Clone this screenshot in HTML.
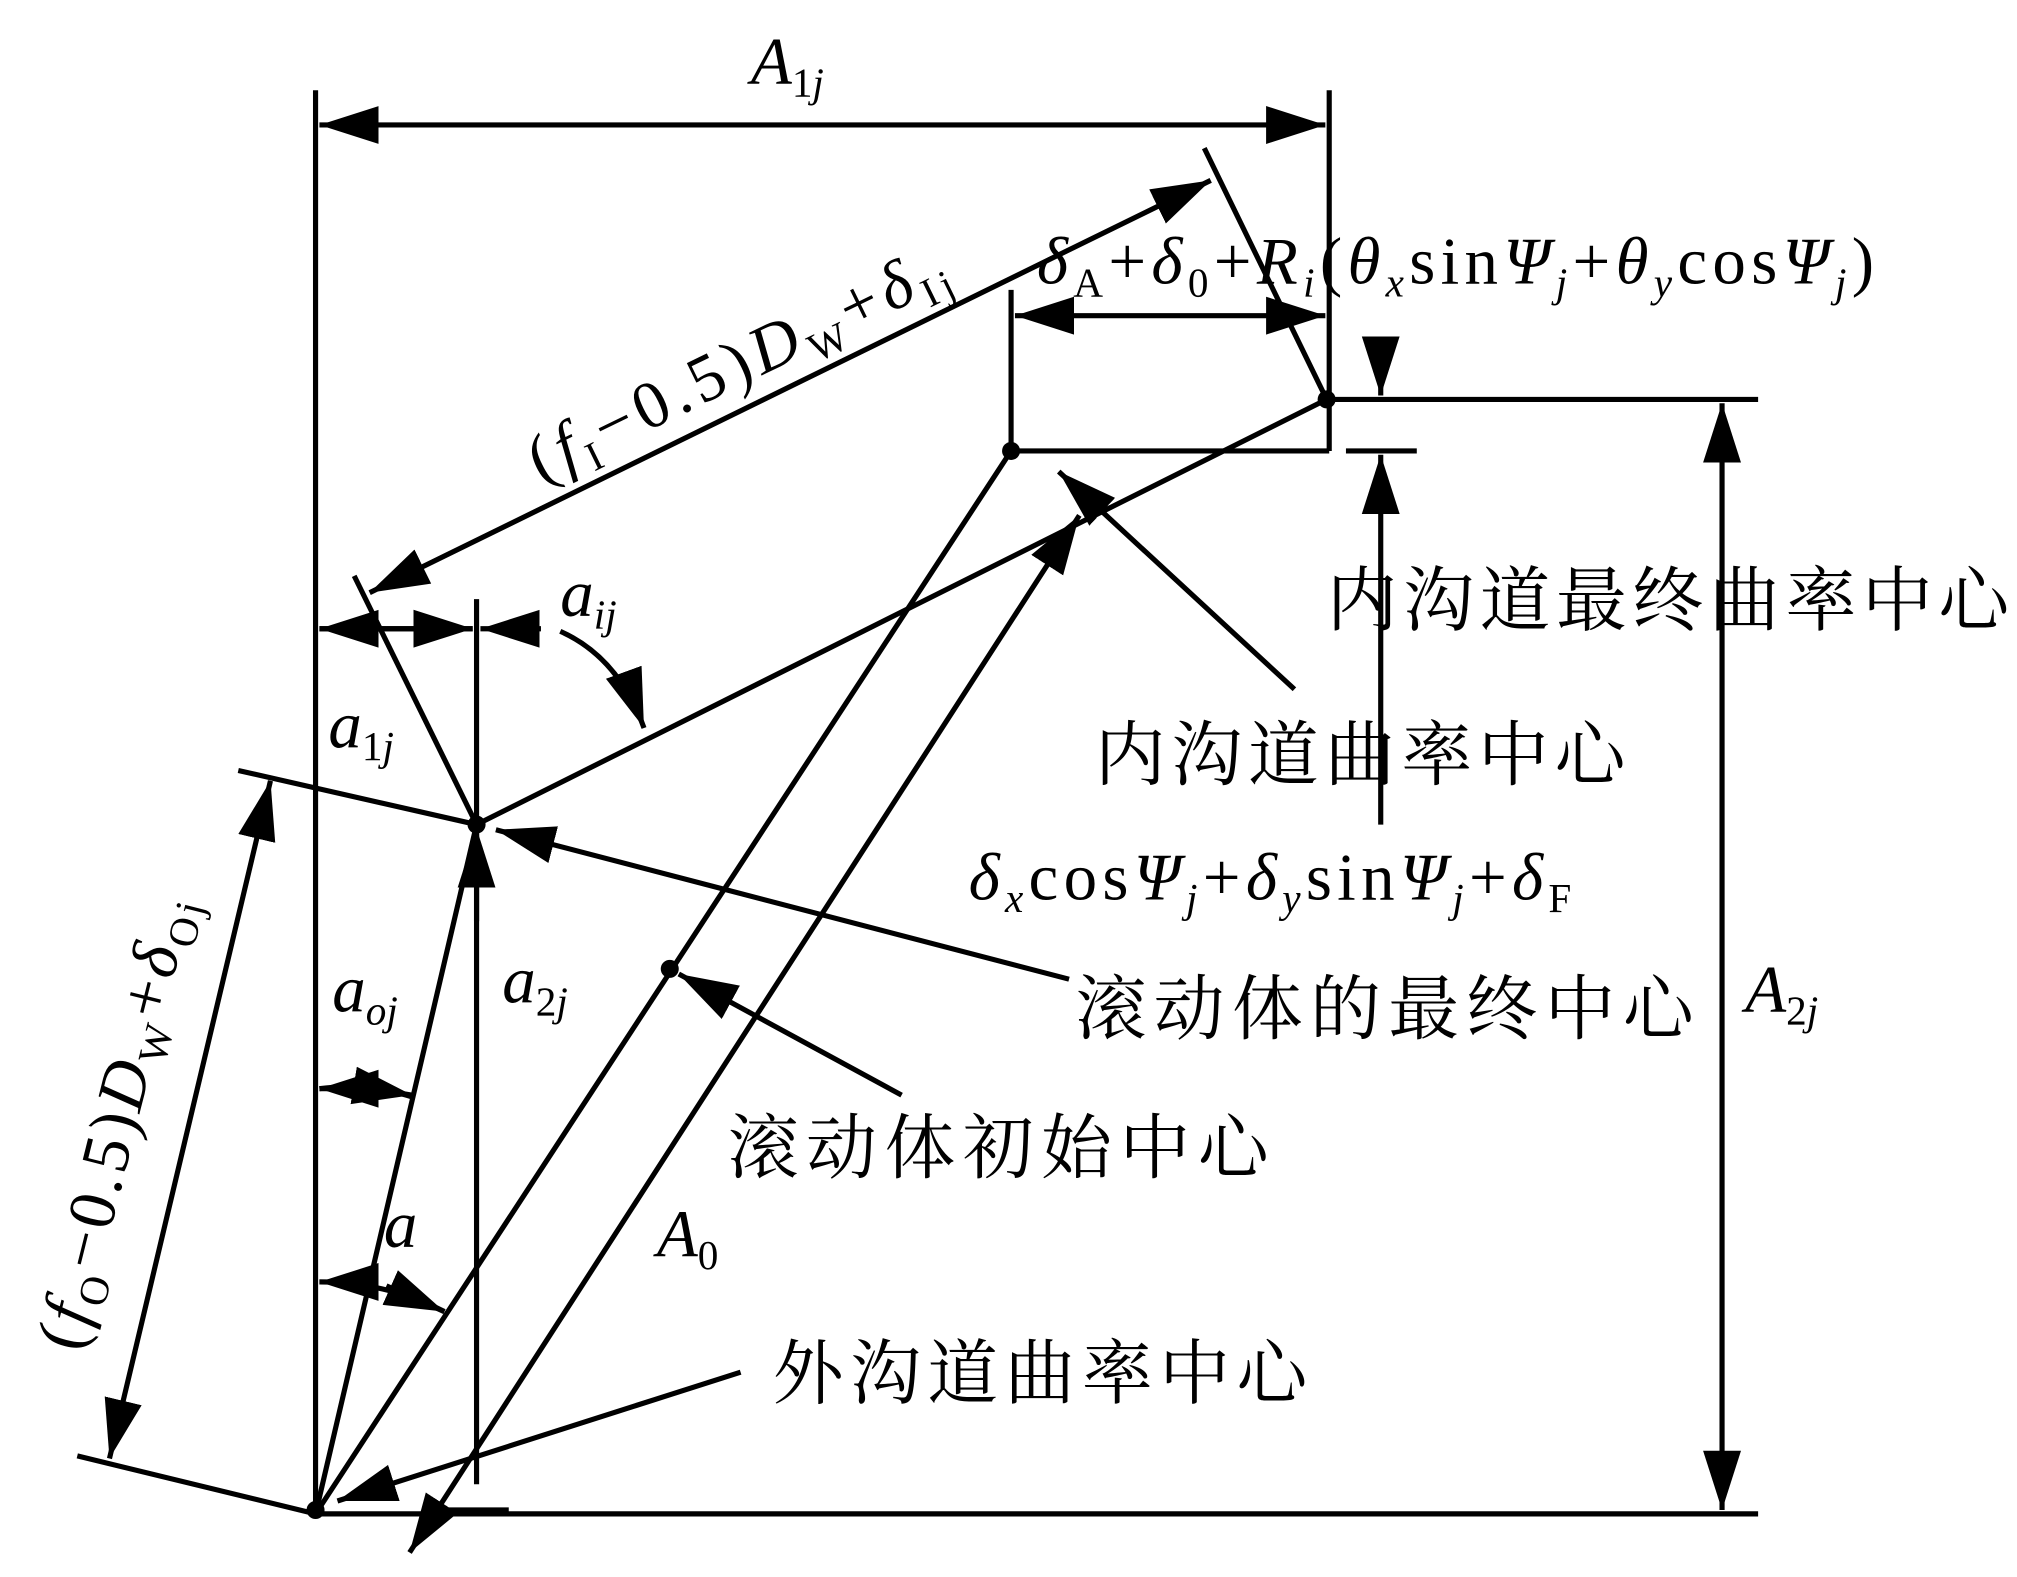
<!DOCTYPE html>
<html><head><meta charset="utf-8"><style>
html,body{margin:0;padding:0;background:#fff;}
svg{display:block}
text{font-family:"Liberation Serif","Noto Serif CJK SC",serif;fill:#000}
.cn{font-family:"Liberation Serif","Noto Serif CJK SC","Noto Sans CJK SC",serif;font-size:55px}
.m{font-size:52px}
.i{font-style:italic}
</style></head><body>
<svg width="2017" height="1577" viewBox="0 0 1566 1224" preserveAspectRatio="none" xmlns="http://www.w3.org/2000/svg">
<defs>
<marker id="ar2" viewBox="0 0 10 10" refX="10" refY="5" markerWidth="46" markerHeight="46" markerUnits="userSpaceOnUse" orient="auto-start-reverse">
<path d="M0,1.8 L10,5 L0,8.2 z" fill="#000"/></marker>
</defs>
<g stroke="#000" stroke-width="4" fill="none">
<line x1="245" y1="70" x2="245" y2="1175"/>
<line x1="1032" y1="70" x2="1032" y2="350"/>
<line x1="245" y1="1175" x2="1365" y2="1175"/>
<line x1="1032" y1="310" x2="1365" y2="310"/>
<line x1="785" y1="225" x2="785" y2="350"/>
<line x1="785" y1="350" x2="1032" y2="350"/>
<line x1="1045" y1="350" x2="1100" y2="350"/>
<line x1="370" y1="465" x2="370" y2="1152"/>
<line x1="935" y1="115" x2="1030" y2="310"/>
<line x1="275" y1="447" x2="370" y2="640"/>
<line x1="185" y1="598" x2="370" y2="640"/>
<line x1="60" y1="1130" x2="245" y2="1175"/>
<line x1="370" y1="640" x2="1030" y2="310"/>
<line x1="245" y1="1175" x2="785" y2="350"/>
<line x1="245" y1="1175" x2="370" y2="640"/>
<line x1="248" y1="97" x2="1029" y2="97" marker-start="url(#ar2)" marker-end="url(#ar2)"/>
<line x1="1337" y1="313" x2="1337" y2="1172" marker-start="url(#ar2)" marker-end="url(#ar2)"/>
<line x1="788" y1="245" x2="1029" y2="245" marker-start="url(#ar2)" marker-end="url(#ar2)"/>
<line x1="287" y1="460" x2="940" y2="140" marker-start="url(#ar2)" marker-end="url(#ar2)"/>
<line x1="85" y1="1132" x2="210" y2="606" marker-start="url(#ar2)" marker-end="url(#ar2)"/>
<line x1="318" y1="1205" x2="838" y2="400" marker-start="url(#ar2)" marker-end="url(#ar2)"/>
<line x1="248" y1="488" x2="367" y2="488"/>
<path d="M300,488 L248,488" marker-end="url(#ar2)"/>
<path d="M300,488 L367,488" marker-end="url(#ar2)"/>
<path d="M435,490 Q480,510 500,565" marker-end="url(#ar2)"/>
<line x1="420" y1="488" x2="373" y2="488" marker-end="url(#ar2)"/>
<line x1="1072" y1="640" x2="1072" y2="353" marker-end="url(#ar2)"/>
<line x1="1072" y1="268" x2="1072" y2="307" marker-end="url(#ar2)"/>
<line x1="370" y1="715" x2="370" y2="643" marker-end="url(#ar2)"/>
<path d="M248,845 Q285,840 322,852" />
<path d="M290,845 L248,845" marker-end="url(#ar2)"/>
<path d="M290,845 L320,850" marker-end="url(#ar2)"/>
<path d="M248,995 Q300,995 345,1018" />
<path d="M290,995 L248,995" marker-end="url(#ar2)"/>
<path d="M300,998 L345,1018" marker-end="url(#ar2)"/>
<line x1="1005" y1="535" x2="822" y2="366" marker-end="url(#ar2)"/>
<line x1="830" y1="760" x2="385" y2="644" marker-end="url(#ar2)"/>
<line x1="700" y1="850" x2="527" y2="756" marker-end="url(#ar2)"/>
<line x1="575" y1="1065" x2="262" y2="1165" marker-end="url(#ar2)"/>
<line x1="345" y1="1172" x2="395" y2="1172"/>
</g>
<g fill="#000">
<circle cx="1030" cy="310" r="7"/><circle cx="785" cy="350" r="7"/>
<circle cx="370" cy="640" r="7"/><circle cx="520" cy="752" r="7"/><circle cx="245" cy="1172" r="7"/>
</g>
<text x="583" y="65" class="m"><tspan class="i">A</tspan><tspan font-size="32" dy="10">1</tspan><tspan font-size="32" class="i">j</tspan></text>
<text x="805" y="220" class="m" textLength="650"><tspan class="i">δ</tspan><tspan font-size="32" dy="10">A</tspan><tspan dy="-10">+</tspan><tspan class="i">δ</tspan><tspan font-size="32" dy="10">0</tspan><tspan dy="-10">+</tspan><tspan class="i">R</tspan><tspan class="i" font-size="32" dy="10">i</tspan><tspan dy="-10">(</tspan><tspan class="i">θ</tspan><tspan class="i" font-size="32" dy="10">x</tspan><tspan dy="-10">sin</tspan><tspan class="i">Ψ</tspan><tspan class="i" font-size="32" dy="10">j</tspan><tspan dy="-10">+</tspan><tspan class="i">θ</tspan><tspan class="i" font-size="32" dy="10">y</tspan><tspan dy="-10">cos</tspan><tspan class="i">Ψ</tspan><tspan class="i" font-size="32" dy="10">j</tspan><tspan dy="-10">)</tspan></text>
<text transform="translate(420,375) rotate(-26)" class="m" textLength="355">(<tspan class="i">f</tspan><tspan font-size="32" dy="10">I</tspan><tspan dy="-10">−0.5)</tspan><tspan class="i">D</tspan><tspan font-size="32" dy="10">W</tspan><tspan dy="-10">+</tspan><tspan class="i">δ</tspan><tspan font-size="32" dy="10">Ij</tspan></text>
<text transform="translate(62,1050) rotate(-76)" class="m" textLength="360">(<tspan class="i">f</tspan><tspan font-size="32" dy="10">O</tspan><tspan dy="-10">−0.5)</tspan><tspan class="i">D</tspan><tspan font-size="32" dy="10">W</tspan><tspan dy="-10">+</tspan><tspan class="i">δ</tspan><tspan font-size="32" dy="10">Oj</tspan></text>
<text x="435" y="478" class="m"><tspan class="i">a</tspan><tspan class="i" font-size="32" dy="10">ij</tspan></text>
<text x="255" y="580" class="m"><tspan class="i">a</tspan><tspan font-size="32" dy="10">1</tspan><tspan class="i" font-size="32">j</tspan></text>
<text x="258" y="785" class="m"><tspan class="i">a</tspan><tspan class="i" font-size="32" dy="10">oj</tspan></text>
<text x="390" y="778" class="m"><tspan class="i">a</tspan><tspan font-size="32" dy="10">2</tspan><tspan class="i" font-size="32">j</tspan></text>
<text x="298" y="968" class="m i">a</text>
<text x="510" y="975" class="m"><tspan class="i">A</tspan><tspan font-size="32" dy="10">0</tspan></text>
<text x="1355" y="785" class="m"><tspan class="i">A</tspan><tspan font-size="32" dy="10">2</tspan><tspan class="i" font-size="32">j</tspan></text>
<text x="752" y="698" class="m" textLength="468"><tspan class="i">δ</tspan><tspan class="i" font-size="32" dy="10">x</tspan><tspan dy="-10">cos</tspan><tspan class="i">Ψ</tspan><tspan class="i" font-size="32" dy="10">j</tspan><tspan dy="-10">+</tspan><tspan class="i">δ</tspan><tspan class="i" font-size="32" dy="10">y</tspan><tspan dy="-10">sin</tspan><tspan class="i">Ψ</tspan><tspan class="i" font-size="32" dy="10">j</tspan><tspan dy="-10">+</tspan><tspan class="i">δ</tspan><tspan font-size="32" dy="10">F</tspan></text>
<text x="1030" y="485" class="cn" textLength="530">内沟道最终曲率中心</text>
<text x="850" y="605" class="cn" textLength="412">内沟道曲率中心</text>
<text x="835" y="802" class="cn" textLength="480">滚动体的最终中心</text>
<text x="565" y="910" class="cn" textLength="420">滚动体初始中心</text>
<text x="600" y="1085" class="cn" textLength="415">外沟道曲率中心</text>
</svg>
</body></html>
